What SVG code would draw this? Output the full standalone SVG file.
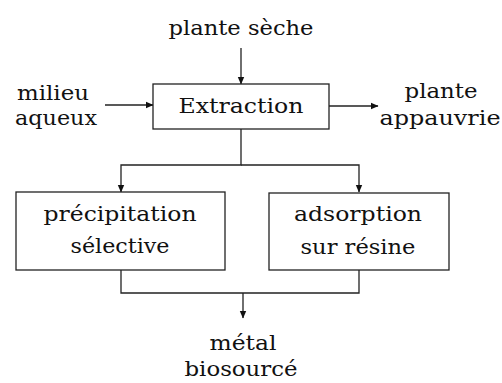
<svg xmlns="http://www.w3.org/2000/svg" width="502" height="383" viewBox="0 0 502 383">
<style>
text{font-family:'DejaVu Serif','Liberation Serif',serif;font-size:21px;fill:#111;text-anchor:middle}
.box{fill:#fff;stroke:#222;stroke-width:1.3}
.ln{fill:none;stroke:#222;stroke-width:1.3}
</style>
<defs>
<marker id="ah" markerWidth="8" markerHeight="8" refX="7" refY="4" orient="auto" markerUnits="userSpaceOnUse">
<path d="M0,0.8 L7.5,4 L0,7.2 Z" fill="#111"/>
</marker>
</defs>
<rect width="502" height="383" fill="#fff"/>
<g id="connectors">
<line class="ln" x1="241" y1="48" x2="241" y2="84" marker-end="url(#ah)"/>
<line class="ln" x1="105" y1="105" x2="153" y2="105" marker-end="url(#ah)"/>
<line class="ln" x1="329" y1="106" x2="378" y2="106" marker-end="url(#ah)"/>
<path class="ln" d="M241,129 V165 H121 V192" marker-end="url(#ah)"/>
<path class="ln" d="M241,165 H359 V192" marker-end="url(#ah)"/>
<path class="ln" d="M121,270 V293 H359 V270"/>
<line class="ln" x1="243" y1="293" x2="243" y2="318" marker-end="url(#ah)"/>
</g>
<g id="plante-seche"><text x="241" y="35" textLength="145" lengthAdjust="spacingAndGlyphs">plante sèche</text></g>
<g id="milieu-aqueux">
<text x="53" y="100" textLength="72" lengthAdjust="spacingAndGlyphs">milieu</text>
<text x="56" y="125" textLength="82" lengthAdjust="spacingAndGlyphs">aqueux</text>
</g>
<g id="extraction">
<rect class="box" x="153" y="84" width="176" height="45"/>
<text x="241" y="113" textLength="125" lengthAdjust="spacingAndGlyphs">Extraction</text>
</g>
<g id="plante-appauvrie">
<text x="441" y="98" textLength="73" lengthAdjust="spacingAndGlyphs">plante</text>
<text x="440" y="125" textLength="121" lengthAdjust="spacingAndGlyphs">appauvrie</text>
</g>
<g id="precipitation">
<rect class="box" x="16" y="192" width="209" height="78"/>
<text x="120" y="221" textLength="153" lengthAdjust="spacingAndGlyphs">précipitation</text>
<text x="120" y="253" textLength="99" lengthAdjust="spacingAndGlyphs">sélective</text>
</g>
<g id="adsorption">
<rect class="box" x="269" y="193" width="180" height="77"/>
<text x="358" y="221" textLength="128" lengthAdjust="spacingAndGlyphs">adsorption</text>
<text x="358" y="254" textLength="115" lengthAdjust="spacingAndGlyphs">sur résine</text>
</g>
<g id="metal">
<text x="243" y="350" textLength="67" lengthAdjust="spacingAndGlyphs">métal</text>
<text x="241" y="376" textLength="113" lengthAdjust="spacingAndGlyphs">biosourcé</text>
</g>
</svg>
